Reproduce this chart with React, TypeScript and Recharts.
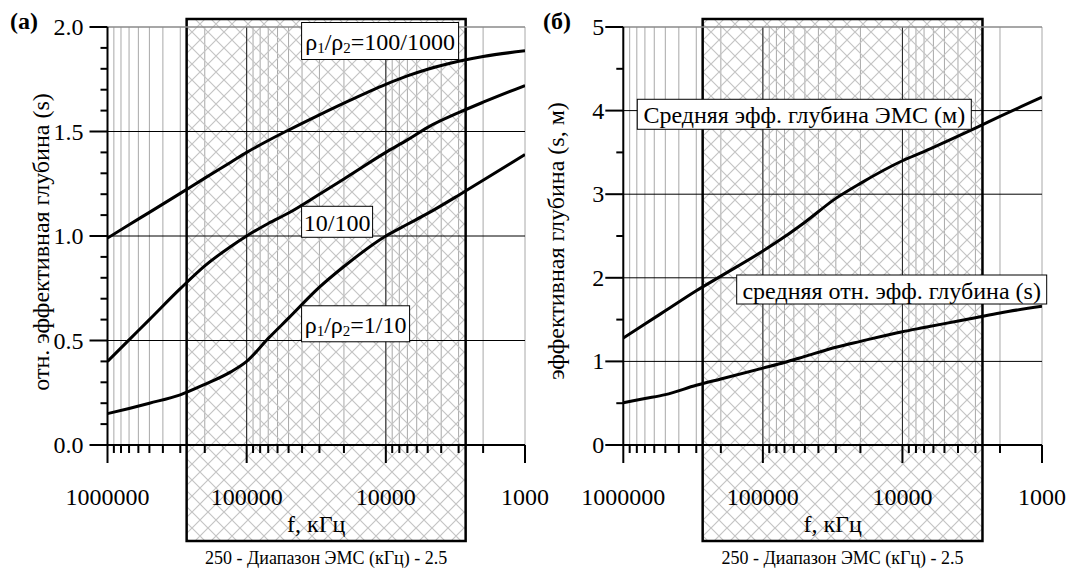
import React from 'react';
import {
  LineChart,
  Line,
  XAxis,
  YAxis,
  CartesianGrid,
  ReferenceLine,
  ReferenceArea,
  ReferenceDot,
  Label,
} from 'recharts';

const FONT = '"Liberation Serif", "Times New Roman", serif';

// frequency axis, kHz (log, reversed)
const freqMajor = [1000000, 100000, 10000, 1000];
const freqMinor = [
  900000, 800000, 700000, 600000, 500000, 400000, 300000, 200000,
  90000, 80000, 70000, 60000, 50000, 40000, 30000, 20000,
  9000, 8000, 7000, 6000, 5000, 4000, 3000, 2000,
];
const freqTicks = [...freqMajor, ...freqMinor];

// hatched EMS band (250 - 2.5 кГц as drawn)
const emsBand = [270000, 2670];

// panel (а): relative effective depth
const freqA = [1000000, 700000, 500000, 300000, 200000, 130000, 100000, 70000, 50000, 30000, 20000, 10000, 7000, 5000, 3000, 2000, 1000];
const rhoHigh = [0.99, 1.054, 1.113, 1.204, 1.277, 1.353, 1.4, 1.457, 1.507, 1.58, 1.636, 1.726, 1.766, 1.798, 1.836, 1.859, 1.886];
const rhoMid = [0.4, 0.503, 0.6, 0.748, 0.857, 0.95, 1.0, 1.06, 1.11, 1.2, 1.273, 1.4, 1.46, 1.52, 1.59, 1.64, 1.72];
const rhoLow = [0.15, 0.175, 0.2, 0.24, 0.29, 0.35, 0.4, 0.51, 0.607, 0.755, 0.854, 1.0, 1.056, 1.108, 1.195, 1.267, 1.39];
const ticksA = [0, 0.1, 0.2, 0.3, 0.4, 0.5, 0.6, 0.7, 0.8, 0.9, 1, 1.1, 1.2, 1.3, 1.4, 1.5, 1.6, 1.7, 1.8, 1.9, 2];
const majorA = [0, 0.5, 1, 1.5, 2];

// panel (б): mean effective depth
const freqB = [1000000, 700000, 500000, 300000, 200000, 100000, 70000, 50000, 30000, 20000, 10000, 7000, 5000, 3000, 2000, 1000];
const depthMeters = [1.28, 1.447, 1.605, 1.845, 2.02, 2.32, 2.49, 2.665, 2.95, 3.13, 3.4, 3.51, 3.62, 3.79, 3.93, 4.16];
const depthRel = [0.506, 0.556, 0.603, 0.714, 0.79, 0.92, 0.987, 1.06, 1.17, 1.24, 1.355, 1.405, 1.452, 1.523, 1.58, 1.66];
const ticksB = [0, 0.5, 1, 1.5, 2, 2.5, 3, 3.5, 4, 4.5, 5];
const majorB = [0, 1, 2, 3, 4, 5];

const toRows = (xs: number[], ys: number[]) => xs.map((f, i) => ({ f, s: ys[i] }));

type BoxLabel = { f: number; s: number; w: number; h: number; text: React.ReactNode };

const rho = (tail: string) => (
  <>
    <tspan>ρ</tspan>
    <tspan fontSize={15} dy={6}>1</tspan>
    <tspan dy={-6}>/ρ</tspan>
    <tspan fontSize={15} dy={6}>2</tspan>
    <tspan dy={-6}>{tail}</tspan>
  </>
);

const PLOT_TOP = 27;
const PLOT_BOTTOM = 445;

type PanelProps = {
  left: number;
  width: number;
  right: number;
  yWidth: number;
  yDomain: [number, number];
  yTicks: number[];
  yMajor: number[];
  fmt: (v: number) => string;
  labelGap: number;
  band: [number, number];
  title: string;
  titleY: number;
  letter: string;
  letterX: number;
  series: { f: number; s: number }[][];
  boxes: BoxLabel[];
};

function Panel(p: PanelProps) {
  const xTick = (props: any) => {
    const { x, payload } = props;
    const y = PLOT_BOTTOM;
    const major = freqMajor.includes(payload.value);
    return (
      <g>
        <line x1={x} x2={x} y1={y} y2={y + (major ? 18 : 8)} stroke="#000" strokeWidth={2} />
        {major && (
          <text x={x} y={y + 60} textAnchor="middle" fontSize={24} fontFamily={FONT} fill="#000">
            {payload.value}
          </text>
        )}
      </g>
    );
  };

  const yTick = (props: any) => {
    const { y, payload } = props;
    const x = p.yWidth;
    const major = p.yMajor.includes(payload.value);
    return (
      <g>
        <line x1={x} x2={x - (major ? 18 : 7)} y1={y} y2={y} stroke="#000" strokeWidth={2} />
        {major && (
          <text x={x - p.labelGap} y={y} dominantBaseline="central" textAnchor="end" fontSize={24} fontFamily={FONT} fill="#000">
            {p.fmt(payload.value)}
          </text>
        )}
      </g>
    );
  };

  const top = p.yDomain[1];
  const hLines = p.yMajor.filter((v) => v > 0 && v < top);

  return (
    <div style={{ position: 'absolute', left: p.left, top: 0 }}>
      <LineChart
        width={p.width}
        height={569}
        margin={{ top: PLOT_TOP, right: p.right, bottom: 569 - PLOT_BOTTOM - 30, left: 0 }}
      >
        <CartesianGrid horizontal={false} stroke="#a8a8a8" strokeWidth={1} />
        <ReferenceArea
          x1={emsBand[0]}
          x2={emsBand[1]}
          y1={p.band[0]}
          y2={p.band[1]}
          ifOverflow="visible"
          fill="url(#emsHatch)"
          fillOpacity={1}
          stroke="#000"
          strokeWidth={2.5}
          label={{
            content: (lp: any) => {
              const vb = lp.viewBox || {};
              return (
                <text x={vb.x + vb.width / 2} y={vb.y + vb.height + 23} textAnchor="middle" fontSize={18} fontFamily={FONT} fill="#000">
                  250 - Диапазон ЭМС (кГц) - 2.5
                </text>
              );
            },
          }}
        />
        {[100000, 10000].map((v) => (
          <ReferenceLine key={v} x={v} stroke="#222" strokeWidth={1} />
        ))}
        {hLines.map((v) => (
          <ReferenceLine key={v} y={v} stroke="#000" strokeWidth={1} />
        ))}
        <ReferenceLine y={top} stroke="#8a8a8a" strokeWidth={1.5} />
        <XAxis
          type="number"
          dataKey="f"
          scale="log"
          domain={[1000, 1000000]}
          allowDataOverflow
          reversed
          ticks={freqTicks}
          interval={0}
          tick={xTick}
          tickLine={false}
          tickSize={0}
          tickMargin={0}
          axisLine={{ stroke: '#000', strokeWidth: 2 }}
          height={30}
        >
          <Label
            content={(lp: any) => {
              const vb = lp.viewBox || {};
              return (
                <text x={vb.x + vb.width / 2} y={PLOT_BOTTOM + 87} textAnchor="middle" fontSize={24} fontFamily={FONT} fill="#000">
                  f, кГц
                </text>
              );
            }}
          />
        </XAxis>
        <YAxis
          type="number"
          domain={p.yDomain}
          ticks={p.yTicks}
          interval={0}
          tick={yTick}
          tickLine={false}
          tickSize={0}
          tickMargin={0}
          axisLine={{ stroke: '#000', strokeWidth: 2 }}
          width={p.yWidth}
        >
          <Label
            content={() => (
              <g>
                <text x={p.letterX - p.left} y={29} fontSize={24} fontWeight="bold" fontFamily={FONT} fill="#000">
                  {p.letter}
                </text>
                <text
                  transform={`translate(${p.yWidth - 67}, ${p.titleY}) rotate(-90)`}
                  textAnchor="middle"
                  dominantBaseline="central"
                  fontSize={24}
                  fontFamily={FONT}
                  fill="#000"
                >
                  {p.title}
                </text>
              </g>
            )}
          />
        </YAxis>
        {p.series.map((rows, i) => (
          <Line
            key={i}
            data={rows}
            dataKey="s"
            type="monotone"
            stroke="#000"
            strokeWidth={3}
            dot={false}
            isAnimationActive={false}
          />
        ))}
        {p.boxes.map((b, i) => (
          <ReferenceDot
            key={i}
            x={b.f}
            y={b.s}
            r={0}
            ifOverflow="visible"
            shape={(sp: any) => (
              <g>
                <rect x={sp.cx} y={sp.cy - b.h / 2} width={b.w} height={b.h} fill="#fff" stroke="#000" strokeWidth={1} />
                <text
                  x={sp.cx + b.w / 2}
                  y={sp.cy + 1}
                  textAnchor="middle"
                  dominantBaseline="central"
                  fontSize={24}
                  fontFamily={FONT}
                  fill="#000"
                >
                  {b.text}
                </text>
              </g>
            )}
          />
        ))}
      </LineChart>
    </div>
  );
}

export default function App() {
  return (
    <div style={{ position: 'absolute', left: 0, top: 0, width: 1069, height: 569, background: '#fff' }}>
      <svg width={0} height={0} style={{ position: 'absolute' }}>
        <defs>
          <pattern id="emsHatch" width={16} height={16} patternUnits="userSpaceOnUse">
            <path d="M0 0L16 16M16 0L0 16" stroke="#c4c4c4" strokeWidth={1.2} />
          </pattern>
        </defs>
      </svg>
      <Panel
        left={0}
        width={560}
        right={35}
        yWidth={107.5}
        yDomain={[0, 2]}
        yTicks={ticksA}
        yMajor={majorA}
        fmt={(v) => v.toFixed(1)}
        labelGap={24}
        band={[-0.459, 2.038]}
        title="отн. эффективная глубина (s)"
        titleY={242}
        letter="(а)"
        letterX={10}
        series={[toRows(freqA, rhoHigh), toRows(freqA, rhoMid), toRows(freqA, rhoLow)]}
        boxes={[
          { f: 40300, s: 1.933, w: 157, h: 37, text: rho('=100/1000') },
          { f: 40300, s: 1.068, w: 71, h: 31, text: '10/100' },
          { f: 40300, s: 0.58, w: 108, h: 36, text: rho('=1/10') },
        ]}
      />
      <Panel
        left={535}
        width={534}
        right={27}
        yWidth={88.3}
        yDomain={[0, 5]}
        yTicks={ticksB}
        yMajor={majorB}
        fmt={(v) => String(v)}
        labelGap={19}
        band={[-1.148, 5.096]}
        title="эффективная глубина (s, м)"
        titleY={241}
        letter="(б)"
        letterX={543}
        series={[toRows(freqB, depthMeters), toRows(freqB, depthRel)]}
        boxes={[
          { f: 794000, s: 3.956, w: 334, h: 30, text: 'Средняя эфф. глубина ЭМС (м)' },
          { f: 154000, s: 1.86, w: 310, h: 29, text: 'средняя отн. эфф. глубина (s)' },
        ]}
      />
    </div>
  );
}
